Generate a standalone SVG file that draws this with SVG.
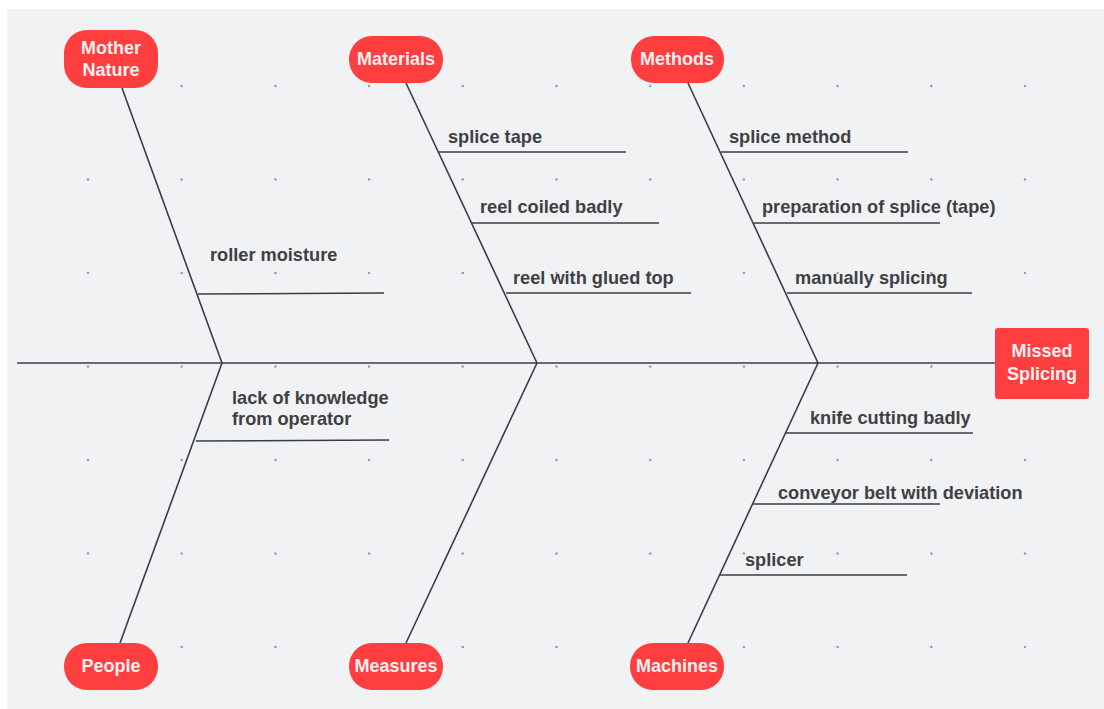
<svg xmlns="http://www.w3.org/2000/svg" width="1104" height="709" viewBox="0 0 1104 709">
<defs>
<style>
.bg{fill:#f1f2f4}
.dot{fill:#9a9ea6}
.pill{fill:#ff3e3f}
.plabel{font-family:"Liberation Sans",Arial,sans-serif;font-weight:bold;font-size:18px;fill:#fff0f0;text-anchor:middle}
.lbl{font-family:"Liberation Sans",Arial,sans-serif;font-weight:bold;font-size:18.2px;fill:#3f4044}
.ln{stroke:#383d45;stroke-width:1.6;fill:none}
</style>
<g id="row">
<circle cx="88" cy="0" r="1.3"/>
<circle cx="181.7" cy="0" r="1.3"/>
<circle cx="275.4" cy="0" r="1.3"/>
<circle cx="369.1" cy="0" r="1.3"/>
<circle cx="462.8" cy="0" r="1.3"/>
<circle cx="556.5" cy="0" r="1.3"/>
<circle cx="650.2" cy="0" r="1.3"/>
<circle cx="743.9" cy="0" r="1.3"/>
<circle cx="837.6" cy="0" r="1.3"/>
<circle cx="931.3" cy="0" r="1.3"/>
<circle cx="1025" cy="0" r="1.3"/>
</g>
</defs>
<rect x="0" y="0" width="1104" height="709" fill="#ffffff"/>
<rect x="7" y="9" width="1097" height="700" class="bg"/>
<g id="grid" class="dot">
<use href="#row" y="86"/>
<use href="#row" y="179.5"/>
<use href="#row" y="273"/>
<use href="#row" y="366.5"/>
<use href="#row" y="460"/>
<use href="#row" y="553.5"/>
<use href="#row" y="647"/>
</g>
<g id="connectors">
<line class="ln" x1="17" y1="363" x2="995" y2="363"/>
<line class="ln" x1="122" y1="88" x2="222" y2="363"/>
<line class="ln" x1="222" y1="363" x2="120" y2="643"/>
<line class="ln" x1="406" y1="83" x2="537" y2="363"/>
<line class="ln" x1="537" y1="363" x2="406" y2="643"/>
<line class="ln" x1="688" y1="83" x2="818" y2="363"/>
<line class="ln" x1="818" y1="363" x2="688" y2="643"/>
<line class="ln" x1="198" y1="294" x2="384" y2="293"/>
<line class="ln" x1="196" y1="441" x2="389" y2="440"/>
<line class="ln" x1="439" y1="152" x2="626" y2="152"/>
<line class="ln" x1="472" y1="223" x2="659" y2="223"/>
<line class="ln" x1="506" y1="293" x2="691" y2="293"/>
<line class="ln" x1="721" y1="152" x2="908" y2="152"/>
<line class="ln" x1="754" y1="223" x2="940" y2="223"/>
<line class="ln" x1="787" y1="293" x2="972" y2="293"/>
<line class="ln" x1="786" y1="433" x2="973" y2="433"/>
<line class="ln" x1="753" y1="504" x2="940" y2="504"/>
<line class="ln" x1="720" y1="575" x2="907" y2="575"/>
</g>
<g id="labels">
<text class="lbl" x="210" y="261">roller moisture</text>
<text class="lbl" x="232" y="404">lack of knowledge</text>
<text class="lbl" x="232" y="425">from operator</text>
<text class="lbl" x="448" y="143">splice tape</text>
<text class="lbl" x="480" y="213">reel coiled badly</text>
<text class="lbl" x="513" y="284">reel with glued top</text>
<text class="lbl" x="729" y="143">splice method</text>
<text class="lbl" x="762" y="213">preparation of splice (tape)</text>
<text class="lbl" x="795" y="284">manually splicing</text>
<text class="lbl" x="810" y="424">knife cutting badly</text>
<text class="lbl" x="778" y="499">conveyor belt with deviation</text>
<text class="lbl" x="745" y="566">splicer</text>
</g>
<g id="mother-nature">
<rect class="pill" x="64" y="30" width="94" height="58" rx="23"/>
<text class="plabel" x="111" y="54">Mother</text>
<text class="plabel" x="111" y="76">Nature</text>
</g>
<g id="materials">
<rect class="pill" x="349" y="36" width="94" height="47" rx="23"/>
<text class="plabel" x="396" y="65">Materials</text>
</g>
<g id="methods">
<rect class="pill" x="631" y="36" width="93" height="47" rx="23"/>
<text class="plabel" x="677" y="65">Methods</text>
</g>
<g id="people">
<rect class="pill" x="64" y="643" width="94" height="47" rx="23"/>
<text class="plabel" x="111" y="672">People</text>
</g>
<g id="measures">
<rect class="pill" x="349" y="643" width="94" height="47" rx="23"/>
<text class="plabel" x="396" y="672">Measures</text>
</g>
<g id="machines">
<rect class="pill" x="630" y="643" width="94" height="47" rx="23"/>
<text class="plabel" x="677" y="672">Machines</text>
</g>
<g id="missed-splicing">
<rect class="pill" x="995" y="328" width="94" height="71" rx="3"/>
<text class="plabel" x="1042" y="357">Missed</text>
<text class="plabel" x="1042" y="380">Splicing</text>
</g>
</svg>
